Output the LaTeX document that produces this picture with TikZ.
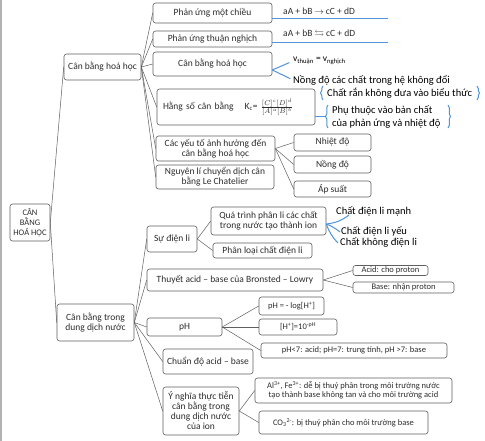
\documentclass[tikz,border=0pt]{standalone}
\usepackage{fontspec}
\setmainfont{Carlito}
\usepackage{amsmath,amssymb}
\usetikzlibrary{decorations.pathreplacing,calc}
\definecolor{mapblue}{RGB}{79,148,218}
\definecolor{boxgray}{RGB}{95,95,95}
\definecolor{txtgray}{RGB}{45,45,45}

\begin{document}
\begin{tikzpicture}[x=1pt,y=-1pt,
		box/.style={draw=boxgray,rounded corners=2.5pt,align=center,inner sep=1pt,
			text=txtgray,font=\fontsize{9.5}{10}\selectfont,line width=0.6pt},
		smallbox/.style={box,font=\fontsize{8.5}{9.5}\selectfont},
		link/.style={draw=boxgray,line width=0.5pt},
		blueline/.style={draw=mapblue,line width=1pt},
		bluetxt/.style={anchor=west,inner sep=0pt,text=black,
			font=\fontsize{10.5}{12}\selectfont}]
		
		\useasboundingbox[fill=white] (0,0) rectangle (485,441);
		\draw[gray!60,line width=1.2pt]
		(1,0) -- (1,441);
		
		% goc
		\node[box,minimum width=40pt,minimum height=37pt,
		font=\fontsize{8.5}{10}\selectfont] (goc)
		at (30,222.5) {CÂN\\BẰNG\\HOÁ HỌC};
		
		\node[box,minimum width=77pt,minimum height=26pt] (cbhh)
		at (102.5,67) {Cân bằng hoá học};
		
		\node[box,minimum width=77pt,minimum height=37pt] (cbdd)
		at (95.5,322.5) {Cân bằng trong\\dung dịch nước};
		
		\draw[link] (goc.east) -- (cbhh.west);
		\draw[link] (goc.east) -- (cbdd.west);
		
		% can bang hoa hoc
		\node[box,minimum width=119pt,minimum height=20pt] (pu1)
		at (212.5,13) {Phản ứng một chiều};
		
		\node[box,minimum width=119pt,minimum height=16pt] (pu2)
		at (212.5,39) {Phản ứng thuận nghịch};
		
		\node[box,minimum width=119pt,minimum height=24pt] (cb2)
		at (212.5,64) {Cân bằng hoá học};
		
		\node[box,minimum width=158pt,minimum height=36pt,
		text width=146pt,align=left] (hs)
		at (236,107) {Hằng số cân bằng\hspace{11pt}K\textsubscript{c}=
			$\frac{[C]^c[D]^d}{[A]^a[B]^b}$};
		
		\node[box,minimum width=119pt,minimum height=25pt] (cy)
		at (215.5,148.5) {Các yếu tố ảnh hưởng đến\\cân bằng hoá học};
		
		\node[box,minimum width=118pt,minimum height=24pt] (ng)
		at (215,177) {Nguyên lí chuyển dịch cân\\bằng Le Chatelier};
		
		\foreach \n in {pu1,pu2,cb2,hs,cy,ng}
		\draw[link] (cbhh.east) -- (\n.west);
		
		% phuong trinh
		\node[anchor=west,inner sep=0pt,text=txtgray,
		font=\fontsize{9.5}{10}\selectfont] (pt1)
		at (283,11) {aA + bB $\rightarrow$ cC + dD};
		\node[anchor=west,inner sep=0pt,text=txtgray,
		font=\fontsize{9.5}{10}\selectfont] (pt2)
		at (283,34) {aA + bB $\leftrightarrows$ cC + dD};
		\coordinate (g1) at (388,19);
		\coordinate (g2) at (388,43);
		\draw[blueline] (pu1.east |- g1) -- (g1);
		\draw[blueline] (pu2.east |- g2) -- (g2);
		
		\node[bluetxt,font=\fontsize{9.5}{10}\selectfont] (vv)
		at (293,61) {v\textsubscript{thuận} = v\textsubscript{nghịch}};
		\node[bluetxt] (nong)
		at (293,80) {Nồng độ các chất trong hệ không đổi};
		\draw[blueline,shorten >=4pt] ([yshift=-6pt]cb2.east) -- (vv.west);
		\draw[blueline,shorten >=3pt] ([yshift=-6pt]cb2.east) -- (nong.west);
		
		\node[bluetxt] (cr)
		at (327,93) {Chất rắn không đưa vào biểu thức};
		\draw[blueline,decorate,decoration={brace,amplitude=2.5pt}]
		(323,100) -- (323,86);
		\draw[blueline,decorate,decoration={brace,amplitude=2.5pt}]
		(477,86) -- (477,100);
		
		\node[bluetxt,align=left,font=\fontsize{10.5}{13}\selectfont] (bc)
		at (332,116.5) {Phụ thuộc vào bản chất\\của phản ứng và nhiệt độ};
		\coordinate (ngoac) at (325,117);
		\draw[blueline,decorate,decoration={brace,amplitude=2.5pt}]
		(328,128) -- (328,105);
		\draw[blueline,decorate,decoration={brace,amplitude=2.5pt}]
		(448,105) -- (448,128);
		\draw[blueline] (hs.east |- ngoac) -- (ngoac);
		
		% yeu to
		\node[box,minimum width=77pt,minimum height=17pt] (nhiet)
		at (332.5,142.5) {Nhiệt độ};
		\node[box,minimum width=77pt,minimum height=17pt] (nongdo)
		at (332.5,164.5) {Nồng độ};
		\node[box,minimum width=77pt,minimum height=16pt] (apsuat)
		at (332.5,189) {Áp suất};
		\foreach \n in {nhiet,nongdo,apsuat}
		\draw[link] (cy.east) -- (\n.west);
		
		% dung dich nuoc
		\node[box,minimum width=50pt,minimum height=26pt] (sdl)
		at (172,239) {Sự điện li};
		\node[box,minimum width=176pt,minimum height=22pt] (thuyet)
		at (235,280) {Thuyết acid – base của Bronsted – Lowry};
		\node[box,minimum width=75pt,minimum height=18pt] (ph)
		at (184.5,327) {pH};
		\node[box,minimum width=90pt,minimum height=25pt] (cdo)
		at (208,361.5) {Chuẩn độ acid – base};
		\node[box,minimum width=76pt,minimum height=48pt] (ynghia)
		at (201,411) {Ý nghĩa thực tiễn\\cân bằng trong\\dung dịch nước\\của ion};
		\foreach \n in {sdl,thuyet,ph,cdo,ynghia}
		\draw[link] (cbdd.east) -- (\n.west);
		
		\node[box,minimum width=115pt,minimum height=28pt] (qt)
		at (268.5,221) {Quá trình phân li các chất\\trong nước tạo thành ion};
		\node[box,minimum width=99pt,minimum height=15pt] (pl)
		at (262.5,250.5) {Phân loại chất điện li};
		\draw[link] (sdl.east) -- (qt.west);
		\draw[link] (sdl.east) -- (pl.west);
		
		\node[bluetxt] (manh)
		at (336,211) {Chất điện li mạnh};
		\node[bluetxt] (yeu)
		at (341,231) {Chất điện li yếu};
		\node[bluetxt] (khong)
		at (340,242) {Chất không điện li};
		\draw[blueline] ([yshift=-3pt]qt.east) to[bend right=15]
		([xshift=13pt,yshift=1pt]manh.south west);
		\draw[blueline] ([yshift=-3pt]qt.east) to[bend left=8]
		([xshift=-1pt,yshift=-1pt]yeu.west);
		\draw[blueline] ([yshift=-3pt]qt.east) to[bend right=12]
		([xshift=-2pt,yshift=-1pt]khong.west);
		
		\node[smallbox,minimum width=75pt,minimum height=10pt] (acid)
		at (390.5,270.5) {Acid: cho proton};
		\node[smallbox,minimum width=101pt,minimum height=11pt] (base)
		at (403.5,287.5) {Base: nhận proton};
		\draw[link] (thuyet.east) -- (acid.west);
		\draw[link] (thuyet.east) -- (base.west);
		
		\node[smallbox,minimum width=65pt,minimum height=18pt] (ph1)
		at (291.5,306) {pH = - log[H\textsuperscript{+}]};
		\node[smallbox,minimum width=78pt,minimum height=16pt] (ph2)
		at (298,327) {[H\textsuperscript{+}]=10\textsuperscript{-pH}};
		\node[smallbox,minimum width=186pt,minimum height=15pt] (ph3)
		at (354,350.5) {pH<7: acid; pH=7: trung tính, pH >7: base};
		\foreach \n in {ph1,ph2,ph3}
		\draw[link] (ph.east) -- (\n.west);
		
		\node[smallbox,minimum width=197pt,minimum height=25pt] (alfe)
		at (353.5,390.5) {Al\textsuperscript{3+}, Fe\textsuperscript{3+}: dễ bị thuỷ phân trong môi trường nước\\tạo thành base không tan và cho môi trường acid};
		\node[smallbox,minimum width=169pt,minimum height=23pt] (co3)
		at (343.5,422.5) {CO\textsubscript{3}\textsuperscript{2-}: bị thuỷ phân cho môi trường base};
		\draw[link] (ynghia.east) -- (alfe.west);
		\draw[link] (ynghia.east) -- (co3.west);
		
	\end{tikzpicture}
\end{document}
